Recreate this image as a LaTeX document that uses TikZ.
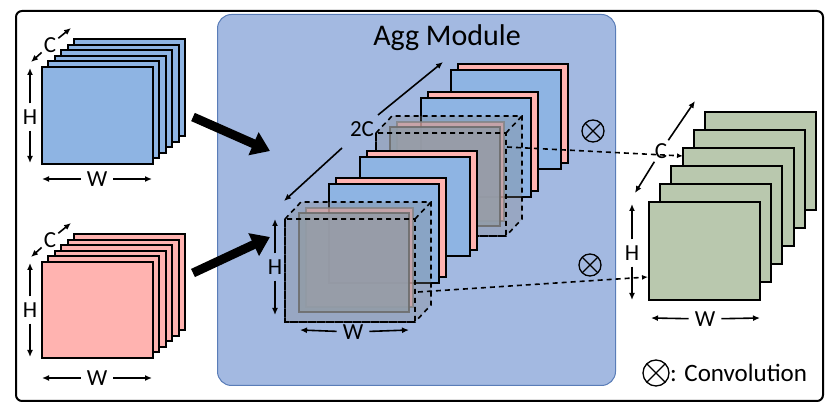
\documentclass[tikz,border=0pt]{standalone}
\usepackage{fontspec}
\setmainfont{Carlito}
\usetikzlibrary{arrows.meta}
\definecolor{bl}{HTML}{8EB4E3}
\definecolor{pk}{HTML}{FFB3B0}
\definecolor{gr}{HTML}{B9C8AE}
\definecolor{agg}{HTML}{A3B9E1}
\definecolor{aggb}{HTML}{5A7DB8}
\definecolor{sq}{HTML}{9BA9BA}
\tikzset{
 sheet/.style={draw=black,line width=2pt},
 dim/.style={-{Latex[length=7pt,width=6pt]},line width=1.6pt},
 lab/.style={font=\fontsize{23}{23}\selectfont,inner sep=6pt},
 conv/.style={circle,draw,line width=1.3pt,minimum size=22pt,inner sep=0pt,
   path picture={\draw[line width=1.3pt] (path picture bounding box.north west)--(path picture bounding box.south east) (path picture bounding box.north east)--(path picture bounding box.south west);}},
 dl/.style={dash pattern=on 5pt off 4pt,line width=1.6pt},
}
\begin{document}
\begin{tikzpicture}[x=1pt,y=-1pt]
\useasboundingbox (0,0) rectangle (831,411);
\node[draw=black,line width=2pt,rounded corners=6pt,minimum width=807,minimum height=390,anchor=north west] (frame) at (15,10) {};
\node[draw=aggb,line width=1pt,fill=agg,rounded corners=14pt,minimum width=398,minimum height=371,anchor=north west] (aggbox) at (217,14) {};
\node[font=\fontsize{30}{30}\selectfont] (title) at (447,38) {Agg Module};
% left blue stack
\foreach \i in {5,4,...,0}{\fill[bl,sheet] ({42+6.4*\i},{67-5.6*\i}) rectangle ++(111,97);}
\coordinate (bH1) at (30,68); \coordinate (bH2) at (30,163);
\node[lab] (bH) at (30,117) {H};
\draw[dim] (bH) -- (bH1); \draw[dim] (bH) -- (bH2);
\node[lab] (bW) at (97,179) {W};
\coordinate (bW1) at (42,179); \coordinate (bW2) at (152,179);
\draw[dim] (bW) -- (bW1); \draw[dim] (bW) -- (bW2);
\node[lab,inner sep=2pt] (bC) at (50,45) {C};
\coordinate (bC1) at (31,62); \coordinate (bC2) at (71,28);
\draw[dim] (bC) -- (bC1); \draw[dim] (bC) -- (bC2);
% left pink stack
\foreach \i in {5,4,...,0}{\fill[pk,sheet] ({42+6.4*\i},{262-5.6*\i}) rectangle ++(111,96);}
\coordinate (pH1) at (30,263); \coordinate (pH2) at (30,357);
\node[lab] (pH) at (30,310) {H};
\draw[dim] (pH) -- (pH1); \draw[dim] (pH) -- (pH2);
\node[lab] (pW) at (97,378) {W};
\coordinate (pW1) at (42,378); \coordinate (pW2) at (152,378);
\draw[dim] (pW) -- (pW1); \draw[dim] (pW) -- (pW2);
\node[lab,inner sep=2pt] (pC) at (50,240) {C};
\coordinate (pC1) at (31,257); \coordinate (pC2) at (71,223);
\draw[dim] (pC) -- (pC1); \draw[dim] (pC) -- (pC2);
% big arrows
\coordinate (a1s) at (193,117); \coordinate (a1e) at (270,151);
\coordinate (a2s) at (193,273); \coordinate (a2e) at (270,237);
\draw[line width=9pt,-{Triangle[length=18pt,width=24pt]}] (a1s) -- (a1e);
\draw[line width=9pt,-{Triangle[length=18pt,width=24pt]}] (a2s) -- (a2e);
% middle stack
\newcommand\pairsheet[2]{\fill[pk,sheet] ({#1+7},{#2-6}) rectangle ++(110,99);\fill[bl,sheet] (#1,#2) rectangle ++(110,99);}
\newcommand\dashcube[2]{%
 \fill[pk,draw=gray,line width=2pt,opacity=0.75] ({#1+21},{#2-11}) rectangle ++(107,99);
 \fill[sq,draw=gray!80!black,line width=2pt,opacity=0.9] ({#1+14},{#2-6}) rectangle ++(110,99);
 \fill[gray,opacity=0.3] (#1,#2) -- ++(16,-17) -- ++(130,0) -- ++(0,103) -- ++(-16,17) -- ++(-130,0) -- cycle;
 \draw[black,dl] (#1,#2) -- ++(16,-17) -- ++(130,0) -- ++(0,103) -- ++(-16,17) -- ++(-130,0) -- cycle;
 \draw[black,dl] (#1,#2) rectangle ++(130,103) ({#1+130},#2) -- ++(16,-17);}
\pairsheet{451}{70}
\pairsheet{421}{98}
\dashcube{376}{133}
\pairsheet{360}{157}
\pairsheet{329}{184}
\dashcube{285}{219}
\node[lab,inner sep=1pt] (mC) at (362,129) {2C};
\coordinate (mC1) at (284,201); \coordinate (mC2) at (443,62);
\coordinate (mCa) at (342,148); \coordinate (mCb) at (378,115);
\draw[dim] (mCa) -- (mC1); \draw[dim] (mCb) -- (mC2);
\node[lab] (mH) at (275,267) {H};
\coordinate (mH1) at (275,219); \coordinate (mH2) at (275,315);
\draw[dim] (mH) -- (mH1); \draw[dim] (mH) -- (mH2);
\node[lab] (mW) at (353,332) {W};
\coordinate (mW1) at (300,330); \coordinate (mW2) at (409,330);
\draw[dim] (mW) -- (mW1); \draw[dim] (mW) -- (mW2);
\node[conv] (o1) at (593,131) {};
\node[conv] (o2) at (590,265) {};
% green stack
\foreach \i in {5,4,...,0}{\fill[gr,sheet] ({649+11.2*\i},{202-18*\i}) rectangle ++(111,98);}
\coordinate (gC1) at (635,193); \coordinate (gC2) at (695,101);
\node[lab,inner sep=3pt] (gC) at (661,151) {C};
\draw[dim] (gC) -- (gC1); \draw[dim] (gC) -- (gC2);
\node[lab] (gH) at (632,253) {H};
\coordinate (gH1) at (632,204); \coordinate (gH2) at (632,300);
\draw[dim] (gH) -- (gH1); \draw[dim] (gH) -- (gH2);
\node[lab] (gW) at (705,319) {W};
\coordinate (gW1) at (651,318); \coordinate (gW2) at (760,318);
\draw[dim] (gW) -- (gW1); \draw[dim] (gW) -- (gW2);
% dashed connectors
\coordinate (d1s) at (507,147); \coordinate (d1e) at (683,156);
\coordinate (d2s) at (418,292); \coordinate (d2e) at (648,277);
\draw[dl,-{Latex[length=6pt,width=5pt]}] (d1s) -- (d1e);
\draw[dl,-{Latex[length=6pt,width=5pt]}] (d2s) -- (d2e);
% legend
\node[conv,minimum size=26pt] (lo) at (656,373) {};
\node[font=\fontsize{25}{25}\selectfont,anchor=west,inner sep=0pt] (lt) at (670,373) {: Convolution};
\end{tikzpicture}
\end{document}
